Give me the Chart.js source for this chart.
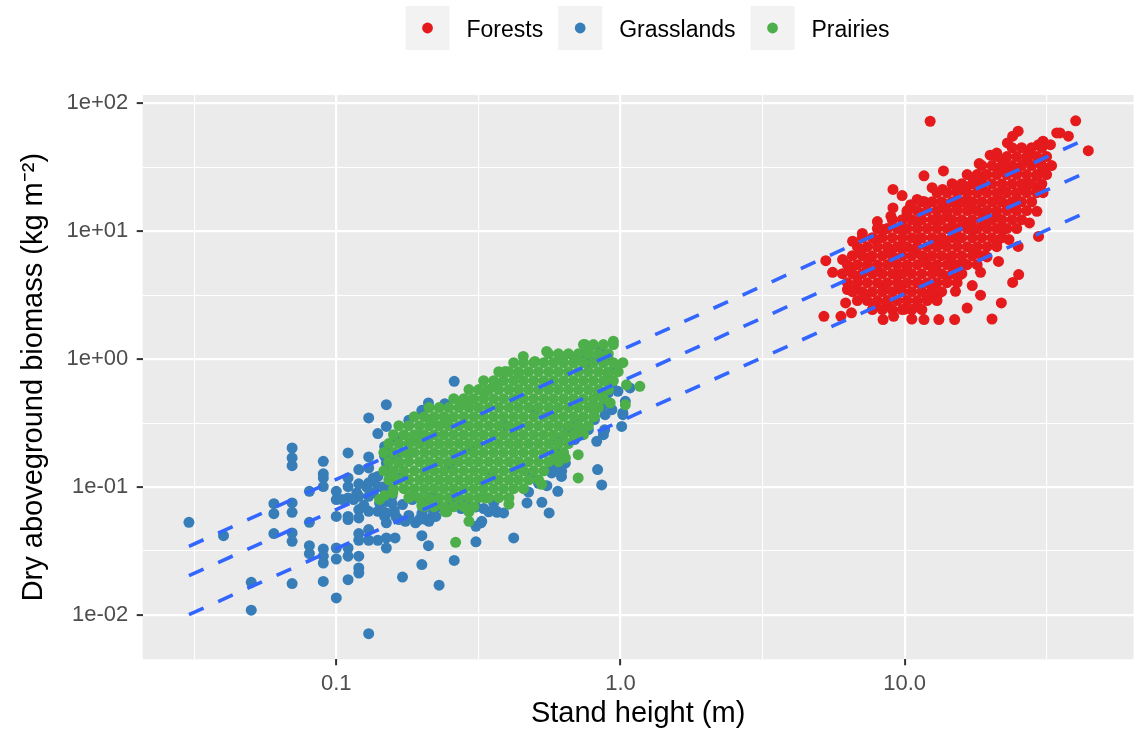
<!DOCTYPE html>
<html>
<head>
<meta charset="utf-8">
<script src="https://cdn.jsdelivr.net/npm/chart.js@4/dist/chart.umd.min.js"></script>
<style>
html,body{margin:0;padding:0;background:#fff}
#wrap{width:1139px;height:732px;position:relative}
</style>
</head>
<body>
<div id="wrap"><canvas id="c"></canvas></div>
<script>
// ---------------- data ----------------
const seriesNames = ['Forests', 'Grasslands', 'Prairies'];
const seriesColors = ['#E41A1C', '#377EB8', '#4DAF4A'];

// scattered points: [stand height (m), dry aboveground biomass (kg m-2)]
const forests = [
[12.3,72.4],[40.0,73.0],[44.3,42.6],[35.2,58.6],[37.7,55.3],[25.1,60.5],[24.0,55.3],[23.0,49.0],[30.7,50.5],[29.6,47.5],
[27.5,42.1],[32.6,47.5],[34.3,58.6],[20.0,39.3],[21.1,40.8],[18.3,33.8],[22.2,35.3],[26.9,36.3],[30.7,31.1],[29.2,27.1],
[26.9,23.9],[24.8,28.8],[23.0,30.3],[21.4,30.3],[19.1,27.1],[17.5,25.3],[13.7,29.6],[16.1,22.6],[18.8,21.2],[22.2,21.2],
[26.2,21.2],[29.2,21.2],[30.7,20.0],[24.8,17.7],[21.4,17.7],[29.2,14.3],[27.5,11.6],[29.6,9.1],[25.1,7.6],[21.4,5.8],
[25.2,4.58],[24.0,3.98],[21.9,2.75],[20.3,2.06],[18.5,3.16],[16.6,2.51],[15.0,2.04],[13.2,2.04],[11.7,2.04],[10.6,2.06],
[9.15,2.16],[8.4,2.04],[5.2,2.16],[5.97,2.16],[6.5,2.3],[6.2,2.75],[5.58,4.77],[5.28,5.89],[6.38,5.3],[7.0,7.19],
[6.56,8.35],[7.1,9.6],[7.9,8.6],[8.95,13.1],[9.1,21.2],[9.8,19.0],[10.5,16.1],[11.7,17.1],[12.5,21.9],[13.6,21.2],
[15.1,22.6],[16.6,17.7],[15.3,15.6],[14.1,13.1],[12.8,12.2],[11.07,11.9],[9.97,10.3],[8.4,10.3],[8.8,7.19],[9.7,7.6],
[7.6,6.3],[6.82,4.43],[7.39,5.02],[6.7,3.5],[7.2,3.1],[7.9,2.59],[8.69,2.75],[9.97,2.45],[11.07,2.59],[12.0,2.93],
[13.0,3.1],[12.5,3.5],[15.1,3.39],[15.7,4.58],[17.3,3.76],[18.5,4.77],[19.5,6.3],[17.5,7.19],[16.1,5.65],[14.5,6.3],
[14.1,4.43],[11.07,3.95],[9.7,3.7],[8.4,3.7],[10.2,5.3],[11.7,6.3],[12.7,8.1],[15.3,9.1],[17.5,10.3],[18.8,11.7],
[21.1,13.1],[22.2,10.3],[23.3,8.61],[21.1,8.1],[18.8,13.9],[23.0,14.8],[9.1,6.0],[8.1,4.86],[9.42,4.58],[8.02,11.9],
[9.1,15.2],[10.2,13.9],[11.7,27.1],[11.07,17.7],[13.7,16.6],[16.9,14.8],[16.1,11.9],[14.5,10.3],[13.7,8.1],[11.07,8.61],
[10.8,6.86],[12.7,5.3],[14.9,5.3],[6.05,6.0],[6.29,3.5]
];
// dense core of the forest cloud, read row by row: [biomass, [heights...]]
const forestCoreRows = [
[45.0, [23.9, 25.8, 28.0, 30.4]],
[38.3, [21.1, 22.9, 24.8, 26.9, 29.2, 31.6]],
[32.6, [18.7, 20.3, 22.0, 23.9, 25.8, 28.0, 30.4, 32.9]],
[27.7, [16.6, 18.0, 19.5, 21.1, 22.9, 24.8, 26.9, 29.2, 31.6]],
[23.5, [14.7, 15.9, 17.3, 18.7, 20.3, 22.0, 23.9, 25.8, 28.0, 30.4]],
[20.0, [13.0, 14.1, 15.3, 16.6, 18.0, 19.5, 21.1, 22.9, 24.8, 26.9, 29.2]],
[17.0, [11.5, 12.5, 13.5, 14.7, 15.9, 17.3, 18.7, 20.3, 22.0, 23.9, 25.8, 28.0]],
[14.5, [10.2, 11.07, 12.0, 13.0, 14.1, 15.3, 16.6, 18.0, 19.5, 21.1, 22.9, 24.8, 26.9]],
[12.3, [9.05, 9.81, 10.6, 11.5, 12.5, 13.5, 14.7, 15.9, 17.3, 18.7, 20.3, 22.0, 23.9, 25.8]],
[10.5, [8.02, 8.69, 9.42, 10.2, 11.07, 12.0, 13.0, 14.1, 15.3, 16.6, 18.0, 19.5, 21.1, 22.9, 24.8]],
[8.90, [7.10, 7.70, 8.35, 9.05, 9.81, 10.6, 11.5, 12.5, 13.5, 14.7, 15.9, 17.3, 18.7, 20.3, 22.0]],
[7.57, [6.82, 7.39, 8.02, 8.69, 9.42, 10.2, 11.07, 12.0, 13.0, 14.1, 15.3, 16.6, 18.0, 19.5, 21.1]],
[6.44, [6.55, 7.10, 7.70, 8.35, 9.05, 9.81, 10.6, 11.5, 12.5, 13.5, 14.7, 15.9, 17.3, 18.7]],
[5.48, [6.29, 6.82, 7.39, 8.02, 8.69, 9.42, 10.2, 11.07, 12.0, 13.0, 14.1, 15.3, 16.6, 18.0]],
[4.66, [6.04, 6.55, 7.10, 7.70, 8.35, 9.05, 9.81, 10.6, 11.5, 12.5, 13.5, 14.7, 15.9]],
[3.96, [6.29, 6.82, 7.39, 8.02, 8.69, 9.42, 10.2, 11.07, 12.0, 13.0, 14.1, 15.3]],
[3.37, [6.55, 7.10, 7.70, 8.35, 9.05, 9.81, 10.6, 11.5, 12.5, 13.5]],
[2.87, [6.82, 7.39, 8.02, 8.69, 9.42, 10.2, 11.07, 12.0, 13.0]],
[2.44, [7.70, 8.35, 9.05, 9.81, 10.6, 11.5]]
];

const grasslands = [
[0.0303,0.053],[0.0401,0.0417],[0.0502,0.018],[0.0502,0.0109],[0.0603,0.0742],[0.0603,0.062],[0.0603,0.0433],
[0.0699,0.202],[0.0699,0.169],[0.0699,0.147],[0.0699,0.0751],[0.0699,0.0635],[0.0699,0.0438],[0.0699,0.0377],[0.0699,0.0176],
[0.0804,0.0926],[0.0804,0.053],[0.0804,0.0348],[0.0804,0.0302],
[0.090,0.159],[0.090,0.127],[0.090,0.118],[0.090,0.101],[0.090,0.0328],[0.090,0.0288],[0.090,0.0255],[0.090,0.0183],
[0.1,0.0926],[0.1,0.0798],[0.1,0.059],[0.1,0.0334],[0.1,0.0274],[0.1,0.0136],
[0.110,0.185],[0.110,0.118],[0.110,0.101],[0.110,0.0822],[0.110,0.059],[0.110,0.0557],[0.110,0.0334],[0.110,0.0288],[0.110,0.0189],
[0.120,0.137],[0.120,0.106],[0.120,0.0847],[0.120,0.0667],[0.120,0.0574],[0.120,0.0433],[0.120,0.0384],[0.120,0.0288],[0.120,0.0233],[0.120,0.0213],
[0.130,0.347],[0.130,0.172],[0.130,0.141],[0.130,0.108],[0.130,0.0847],[0.130,0.0646],[0.130,0.0465],[0.130,0.0384],[0.130,0.00715],
[0.140,0.262],[0.140,0.121],[0.140,0.101],[0.140,0.0646],[0.140,0.0384],
[0.150,0.441],[0.150,0.298],[0.150,0.208],[0.150,0.176],[0.150,0.154],[0.150,0.1],[0.150,0.0773],[0.150,0.0628],[0.150,0.0525],[0.150,0.040],[0.150,0.0334],
[0.161,0.040],[0.171,0.0198],[0.180,0.333],[0.2,0.398],[0.211,0.455],[0.200,0.0417],[0.211,0.0348],[0.200,0.0248],[0.23,0.0171],
[0.241,0.449],[0.26,0.671],[0.26,0.0267],[0.310,0.0373],[0.310,0.0493],[0.325,0.054],[0.421,0.040],[0.388,0.0628],[0.367,0.0646],
[0.469,0.0751],[0.529,0.076],[0.561,0.0628],[0.551,0.1026],[0.602,0.0926],[0.475,0.0915],[0.573,0.129],[0.621,0.133],[0.60,0.154],
[0.831,0.137],[0.859,0.104],[0.871,0.257],[0.825,0.228],[0.883,0.368],[0.906,0.544],[0.98,0.56],[1.04,0.468],[1.02,0.368],
[1.08,0.596],[0.957,0.828],[0.848,1.15],[0.906,1.0],[0.711,1.05],[0.77,0.96],[0.656,0.281],[0.605,0.235],[0.69,0.317],[0.59,0.19],
[0.162,0.174],[0.171,0.121],[0.157,0.0847],[0.171,0.073],[0.162,0.059],[0.175,0.054],[0.19,0.0525],[0.207,0.0557],[0.218,0.059],
[0.202,0.0667],[0.185,0.0798],[0.207,0.0798],[0.218,0.0847],[0.135,0.118],[0.142,0.075],
[0.263,0.075],[0.224,0.059],[0.212,0.054],[0.196,0.0557],[0.166,0.0557],[0.148,0.059],[0.157,0.075],[0.145,0.1],[0.153,0.129],
[0.148,0.174],[0.148,0.208],[0.162,0.235],[0.196,0.228],[0.368,0.0635],[0.358,0.075],[0.344,0.064],[0.323,0.0525],
[0.62,0.121],[0.575,0.137],[0.613,0.14],[0.933,0.403],[1.02,0.38],[1.01,0.298],[0.88,0.281],[0.933,0.613],[0.73,1.08],[0.79,0.96],
[0.515,0.107],[0.487,0.129],[0.64,0.154],[0.69,0.235],[0.771,0.281],[0.81,0.337],[0.86,0.428],
[0.105,0.0798],[0.115,0.0798],[0.125,0.072],[0.135,0.09],[0.145,0.065],[0.128,0.1],[0.118,0.09],
[0.16,0.065],[0.18,0.06],[0.2,0.062],[0.22,0.065],[0.235,0.07],[0.25,0.07],[0.275,0.068],[0.29,0.075],[0.31,0.07],[0.33,0.068],
[0.30,0.20],[0.40,0.30],[0.50,0.40],[0.25,0.15],[0.35,0.12]
];

const prairies = [
[0.944,1.38],[0.75,1.30],[0.771,1.15],[0.55,1.15],[0.62,1.05],[0.455,1.05],[0.50,0.96],[0.69,0.96],[0.393,0.80],[0.438,0.78],
[0.36,0.63],[0.335,0.56],[0.28,0.468],[0.30,0.483],[0.218,0.317],[0.242,0.347],[0.196,0.25],[0.185,0.228],[0.166,0.154],[0.158,0.12],
[0.148,0.086],[0.142,0.08],[0.185,0.086],[0.20,0.0718],[0.242,0.064],[0.293,0.064],[0.293,0.054],[0.335,0.082],[0.405,0.0735],[0.528,0.105],
[0.71,0.118],[0.71,0.179],[0.64,0.169],[0.59,0.173],[0.711,0.265],[0.79,0.428],[0.92,0.455],[1.04,0.44],[1.17,0.613],[1.05,0.63],
[0.906,0.76],[0.836,0.545],[0.81,0.357],[0.263,0.037],[0.245,0.064],[0.158,0.09],[0.18,0.185]
];
// dense core of the prairie cloud, read row by row: [biomass, [heights...]]
const prairieCoreRows = [
[1.30, [0.741, 0.803, 0.871, 0.944]],
[1.10, [0.559, 0.605, 0.656, 0.711, 0.771, 0.836, 0.906]],
[0.939, [0.421, 0.456, 0.495, 0.537, 0.582, 0.631, 0.684, 0.741, 0.803, 0.871, 0.944, 1.02]],
[0.798, [0.373, 0.405, 0.438, 0.475, 0.515, 0.559, 0.605, 0.656, 0.711, 0.771, 0.836, 0.906, 0.982]],
[0.679, [0.330, 0.358, 0.388, 0.421, 0.456, 0.495, 0.537, 0.582, 0.631, 0.684, 0.741, 0.803, 0.871, 0.944]],
[0.578, [0.293, 0.317, 0.344, 0.373, 0.405, 0.438, 0.475, 0.515, 0.559, 0.605, 0.656, 0.711, 0.771, 0.836, 0.906]],
[0.491, [0.259, 0.281, 0.305, 0.330, 0.358, 0.388, 0.421, 0.456, 0.495, 0.537, 0.582, 0.631, 0.684, 0.741, 0.803, 0.871]],
[0.418, [0.212, 0.230, 0.249, 0.270, 0.293, 0.317, 0.344, 0.373, 0.405, 0.438, 0.475, 0.515, 0.559, 0.605, 0.656, 0.711, 0.771, 0.836]],
[0.355, [0.188, 0.204, 0.221, 0.239, 0.259, 0.281, 0.305, 0.330, 0.358, 0.388, 0.421, 0.456, 0.495, 0.537, 0.582, 0.631, 0.684, 0.741, 0.803]],
[0.302, [0.166, 0.180, 0.196, 0.212, 0.230, 0.249, 0.270, 0.293, 0.317, 0.344, 0.373, 0.405, 0.438, 0.475, 0.515, 0.559, 0.605, 0.656, 0.711, 0.771]],
[0.257, [0.159, 0.173, 0.188, 0.204, 0.221, 0.239, 0.259, 0.281, 0.305, 0.330, 0.358, 0.388, 0.421, 0.456, 0.495, 0.537, 0.582, 0.631, 0.684, 0.741]],
[0.219, [0.153, 0.166, 0.180, 0.196, 0.212, 0.230, 0.249, 0.270, 0.293, 0.317, 0.344, 0.373, 0.405, 0.438, 0.475, 0.515, 0.559, 0.605, 0.656]],
[0.186, [0.147, 0.159, 0.173, 0.188, 0.204, 0.221, 0.239, 0.259, 0.281, 0.305, 0.330, 0.358, 0.388, 0.421, 0.456, 0.495, 0.537, 0.582, 0.631]],
[0.158, [0.153, 0.166, 0.180, 0.196, 0.212, 0.230, 0.249, 0.270, 0.293, 0.317, 0.344, 0.373, 0.405, 0.438, 0.475, 0.515, 0.559, 0.605]],
[0.134, [0.147, 0.159, 0.173, 0.188, 0.204, 0.221, 0.239, 0.259, 0.281, 0.305, 0.330, 0.358, 0.388, 0.421, 0.456, 0.495, 0.537]],
[0.114, [0.153, 0.166, 0.180, 0.196, 0.212, 0.230, 0.249, 0.270, 0.293, 0.317, 0.344, 0.373, 0.405, 0.438, 0.475, 0.515]],
[0.0972, [0.159, 0.173, 0.188, 0.204, 0.221, 0.239, 0.259, 0.281, 0.305, 0.330, 0.358, 0.388, 0.421, 0.456]],
[0.0827, [0.180, 0.196, 0.212, 0.230, 0.249, 0.270, 0.293, 0.317, 0.344, 0.373, 0.405]],
[0.0703, [0.204, 0.221, 0.239, 0.259, 0.281, 0.305]]
];

// dashed fit lines (upper band, fit, lower band): [height, biomass] end points
const fitUpper = [[0.0303, 0.0344], [44.4, 53.6]];
const fitMid   = [[0.0303, 0.0203], [44.4, 29.4]];
const fitLower = [[0.0303, 0.01007], [44.4, 14.3]];

// axes
const xMajorTicks = [0.1, 1, 10];
const xTickLabels = ['0.1', '1.0', '10.0'];
const xMinorTicks = [0.031623, 0.31623, 3.1623, 31.623];
const yMajorTicks = [0.01, 0.1, 1, 10, 100];
const yTickLabels = ['1e-02', '1e-01', '1e+00', '1e+01', '1e+02'];
const yMinorTicks = [0.031623, 0.31623, 3.1623, 31.623];
const xRange = [0.02083, 63.9];
const yRange = [0.004505, 116.1];
const xTitle = 'Stand height (m)';
const yTitle = 'Dry aboveground biomass (kg m\u207B\u00B2)';

// ---------------- chart ----------------
const FONT = '"Liberation Sans", Arial, Helvetica, sans-serif';
Chart.defaults.font.family = FONT;

const fromRows = rows => rows.flatMap(([b, hs]) => hs.map(h => [h, b]));
const toXY = arr => arr.map(p => ({x: p[0], y: p[1]}));
const isMajorVal = (list, v) => list.some(t => Math.abs(t - v) / t < 1e-6);
const labelFor = (list, labels, v) => {
  const i = list.findIndex(t => Math.abs(t - v) / t < 1e-6);
  return i >= 0 ? labels[i] : '';
};

const panelBg = {
  id: 'panelBg',
  beforeDraw(chart) {
    const {ctx, chartArea: a} = chart;
    ctx.save();
    ctx.fillStyle = '#EBEBEB';
    ctx.fillRect(a.left, a.top, a.right - a.left, a.bottom - a.top);
    ctx.restore();
  }
};

const ggLegend = {
  id: 'ggLegend',
  afterDraw(chart) {
    const ctx = chart.ctx;
    ctx.save();
    ctx.font = '23px ' + FONT;
    const size = 44, gapText = 17, gapItem = 15, top = 6;
    const widths = seriesNames.map(n => ctx.measureText(n).width);
    const total = widths.reduce((s, w) => s + size + gapText + w, 0) + gapItem * (seriesNames.length - 1);
    let x = 647.5 - total / 2;
    seriesNames.forEach((name, i) => {
      ctx.fillStyle = '#F2F2F2';
      ctx.fillRect(x, top, size, size);
      ctx.fillStyle = seriesColors[i];
      ctx.beginPath();
      ctx.arc(x + size / 2, top + size / 2, 5.4, 0, Math.PI * 2);
      ctx.fill();
      ctx.fillStyle = '#000000';
      ctx.textAlign = 'left';
      ctx.textBaseline = 'alphabetic';
      ctx.fillText(name, x + size + gapText, 36.5);
      x += size + gapText + widths[i] + gapItem;
    });
    ctx.restore();
  }
};

const pointSet = (label, data, color, order) => ({
  label, data: toXY(data), order,
  backgroundColor: color, borderColor: color, borderWidth: 0,
  pointRadius: 5.5, pointHoverRadius: 5.5, showLine: false
});
const lineSet = (label, data) => ({
  label, data: toXY(data), order: 0, showLine: true,
  borderColor: '#3366FF', borderWidth: 3.6, borderDash: [16, 16],
  pointRadius: 0, fill: false
});

new Chart(document.getElementById('c'), {
  type: 'scatter',
  data: {
    datasets: [
      pointSet(seriesNames[0], forests.concat(fromRows(forestCoreRows)), seriesColors[0], 3),
      pointSet(seriesNames[1], grasslands, seriesColors[1], 2),
      pointSet(seriesNames[2], prairies.concat(fromRows(prairieCoreRows)), seriesColors[2], 1),
      lineSet('upper', fitUpper),
      lineSet('fit', fitMid),
      lineSet('lower', fitLower)
    ]
  },
  options: {
    responsive: true,
    maintainAspectRatio: false,
    animation: false,
    events: [],
    layout: {padding: {top: 95, right: 2, left: 0, bottom: 0}},
    plugins: {legend: {display: false}, tooltip: {enabled: false}},
    scales: {
      x: {
        type: 'logarithmic',
        min: xRange[0], max: xRange[1],
        afterBuildTicks: s => { s.ticks = xMinorTicks.concat(xMajorTicks).sort((a, b) => a - b).map(v => ({value: v})); },
        afterFit: s => { s.height = 72.7; },
        border: {display: false},
        grid: {
          color: '#FFFFFF',
          lineWidth: c => (c.tick && isMajorVal(xMajorTicks, c.tick.value)) ? 2.2 : 1.1,
          drawTicks: true, tickLength: 6, tickWidth: 2,
          tickColor: c => (c.tick && isMajorVal(xMajorTicks, c.tick.value)) ? '#333333' : 'rgba(0,0,0,0)'
        },
        ticks: {
          autoSkip: false, maxRotation: 0, padding: 5.5, color: '#4D4D4D',
          font: {size: 22},
          callback: v => labelFor(xMajorTicks, xTickLabels, v)
        },
        title: {display: true, text: xTitle, color: '#000000', font: {size: 29}, padding: {top: 0, bottom: 1}}
      },
      y: {
        type: 'logarithmic',
        min: yRange[0], max: yRange[1],
        afterBuildTicks: s => { s.ticks = yMinorTicks.concat(yMajorTicks).sort((a, b) => a - b).map(v => ({value: v})); },
        afterFit: s => { s.width = 142.7; },
        border: {display: false},
        grid: {
          color: '#FFFFFF',
          lineWidth: c => (c.tick && isMajorVal(yMajorTicks, c.tick.value)) ? 2.2 : 1.1,
          drawTicks: true, tickLength: 6, tickWidth: 2,
          tickColor: c => (c.tick && isMajorVal(yMajorTicks, c.tick.value)) ? '#333333' : 'rgba(0,0,0,0)'
        },
        ticks: {
          autoSkip: false, padding: 8.4, color: '#4D4D4D',
          font: {size: 22},
          callback: v => labelFor(yMajorTicks, yTickLabels, v)
        },
        title: {display: true, text: yTitle, color: '#000000', font: {size: 29}, padding: {top: 16.6, bottom: 0}}
      }
    }
  },
  plugins: [panelBg, ggLegend]
});
</script>
</body>
</html>
